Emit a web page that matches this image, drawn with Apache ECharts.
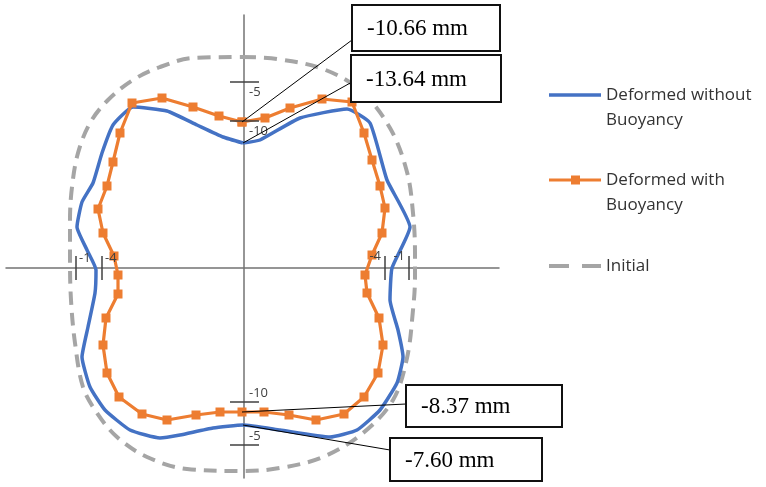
<!DOCTYPE html>
<html>
<head>
<meta charset="utf-8">
<script src="https://cdn.jsdelivr.net/npm/echarts@6/dist/echarts.min.js"></script>
<style>
  html, body { margin: 0; padding: 0; background: #ffffff; }
  #chart { width: 766px; height: 487px; }
</style>
</head>
<body>
<div id="chart"></div>
<script>
// Outline points of the section, measured from the section centre (x to the right, y upwards).
// Each outline runs clockwise from the top of the vertical axis and closes on its first point.
const initialX = [-1, 33, 79, 116, 146, 163, 169, 171, 171, 169, 163, 149, 119, 79, 36, -1,
  -57, -97, -127, -147, -161, -169, -173, -174, -174, -172, -166, -154, -136, -111, -84, -51, -1];
const initialY = [211, 209, 199, 178, 140, 96, 55, 15, -9, -42, -90, -132, -165, -189, -200, -203,
  -201, -189, -169, -145, -119, -75, -32, 8, 48, 81, 115, 145, 168, 188, 201, 210, 211];

const noBuoyancyX = [-1, 16, 56, 103, 126, 143, 166, 148, 146, 154, 159, 153, 136, 113, 86, 36, -1,
  -31, -64, -84, -114, -139, -154, -162, -156, -149, -148, -157, -167, -162, -151, -142, -131, -111, -77, -47, -21, -1];
const noBuoyancyY = [125, 128, 150, 159, 145, 88, 41, 0, -32, -62, -89, -115, -142, -162, -169, -162, -157,
  -160, -167, -170, -162, -142, -119, -89, -59, -25, -2, 18, 41, 66, 85, 115, 143, 161, 157, 143, 131, 125];

const buoyancyX = [-2, 21, 46, 78, 108, 120, 128, 136, 141, 138, 128, 121, 123, 135, 139, 134, 120, 100, 72, 45, 20, -2,
  -24, -48, -77, -102, -125, -137, -141, -138, -126, -126, -130, -141, -146, -137, -131, -124, -112, -82, -51, -25, -2];
const buoyancyY = [146, 150, 160, 169, 166, 135, 108, 82, 60, 35, 13, -7, -25, -50, -77, -105, -129, -146, -152, -147, -144, -144,
  -144, -147, -152, -146, -129, -105, -77, -50, -26, -7, 12, 35, 59, 82, 106, 135, 165, 170, 161, 152, 146];

// Displacement scale marks along the two axes
const scaleAxis = ['y', 'y', 'y', 'y', 'x', 'x', 'x', 'x'];
const scalePos = [186, 147, -134, -177, -168, -142, 141, 165];
const scaleLabels = ['-5', '-10', '-10', '-5', '-1', '-4', '-4', '-1'];

// Annotated displacements (mm) and the outline point each one refers to
const calloutValues = [-10.66, -13.64, -8.37, -7.60];
const calloutCurve = ['buoyancy', 'noBuoyancy', 'buoyancy', 'noBuoyancy'];
const calloutIndex = [0, 0, 21, 16];

// Series names
const seriesNames = ['Deformed without Buoyancy', 'Deformed with Buoyancy', 'Initial'];

// Placement of the annotation boxes (centre, size in px) and where their leader lines meet them
const calloutLayout = [
  { box: [182, 240], size: [148, 46], leader: [108, 228] },
  { box: [182, 189.5], size: [150, 47], leader: [108, 186] },
  { box: [240, -138], size: [156, 42], leader: [162, -136] },
  { box: [222, -191.5], size: [152, 43], leader: [146, -182] }
];

const zip = (xs, ys) => xs.map((x, i) => [x, ys[i]]);
const curves = {
  buoyancy: zip(buoyancyX, buoyancyY),
  noBuoyancy: zip(noBuoyancyX, noBuoyancyY),
  initial: zip(initialX, initialY)
};
const calloutAnchor = i => curves[calloutCurve[i]][calloutIndex[i]];

const legendText = {
  fontFamily: '"Open Sans", "Noto Sans", sans-serif',
  fontSize: 17,
  color: '#333333',
  lineHeight: 25
};
// Two-line legend entries; the empty leading line keeps the first line level with the icon
const twoLine = name => '\n' + name.replace(' Buoyancy', '\nBuoyancy');

const chart = echarts.init(document.getElementById('chart'), null, { renderer: 'canvas' });

chart.setOption({
  animation: false,
  backgroundColor: '#ffffff',
  grid: { left: 6, right: 267, top: 15, bottom: 9, containLabel: false },
  xAxis: {
    type: 'value', min: -238, max: 255,
    axisLine: { show: true, onZero: true, lineStyle: { color: '#737373', width: 1.5 } },
    axisTick: { show: false }, axisLabel: { show: false }, splitLine: { show: false }
  },
  yAxis: {
    type: 'value', min: -210, max: 253,
    axisLine: { show: true, onZero: true, lineStyle: { color: '#737373', width: 1.5 } },
    axisTick: { show: false }, axisLabel: { show: false }, splitLine: { show: false }
  },
  legend: [
    {
      data: [{ name: seriesNames[0], icon: 'rect', itemStyle: { color: '#4472C4', borderWidth: 0 } }],
      formatter: twoLine,
      left: 549, top: 57.5, padding: 0, itemWidth: 52, itemHeight: 3.5, selectedMode: false,
      textStyle: legendText
    },
    {
      data: [{ name: seriesNames[1], icon: 'path://M0,3H52V6H0Z M22,0H31V9H22Z', itemStyle: { color: '#ED7D31', borderWidth: 0 } }],
      formatter: twoLine,
      left: 549, top: 142.5, padding: 0, itemWidth: 52, itemHeight: 9, selectedMode: false,
      textStyle: legendText
    },
    {
      data: [{ name: seriesNames[2], icon: 'path://M0,0H20V4H0Z M33,0H52V4H33Z', itemStyle: { color: '#A5A5A5', borderWidth: 0 } }],
      left: 549, top: 253.5, padding: 0, itemWidth: 52, itemHeight: 4, selectedMode: false,
      textStyle: legendText
    }
  ],
  series: [
    {
      name: seriesNames[2],
      type: 'line',
      data: curves.initial,
      symbol: 'none',
      smooth: 0.35,
      lineStyle: { color: '#A5A5A5', width: 4, type: [13, 8] },
      itemStyle: { color: '#A5A5A5' },
      z: 2
    },
    {
      name: seriesNames[0],
      type: 'line',
      data: curves.noBuoyancy,
      symbol: 'none',
      smooth: 0.15,
      lineStyle: { color: '#4472C4', width: 3.5 },
      itemStyle: { color: '#4472C4' },
      z: 3
    },
    {
      name: seriesNames[1],
      type: 'line',
      data: curves.buoyancy,
      symbol: 'rect',
      symbolSize: 9,
      showSymbol: true,
      lineStyle: { color: '#ED7D31', width: 3.2 },
      itemStyle: { color: '#ED7D31', borderWidth: 0 },
      z: 4
    },
    {
      // scale marks on the axes
      name: 'scale',
      type: 'custom',
      coordinateSystem: 'cartesian2d',
      silent: true,
      z: 5,
      encode: { x: 0, y: 1 },
      data: scalePos.map((p, i) => scaleAxis[i] === 'y' ? [0, p, i] : [p, 0, i]),
      renderItem(params, api) {
        const i = api.value(2);
        const onY = scaleAxis[i] === 'y';
        const pos = scalePos[i];
        const pt = api.coord([api.value(0), api.value(1)]);
        let shape, tx, ty, align;
        if (onY) {
          shape = { x1: pt[0] - 14, y1: pt[1], x2: pt[0] + 15, y2: pt[1] };
          tx = pt[0] + 5; ty = pt[1] + (pos > 0 ? 10 : -9); align = 'left';
        } else {
          shape = { x1: pt[0], y1: pt[1] - 12, x2: pt[0], y2: pt[1] + 12 };
          if (pos < 0) { tx = pt[0] + 3; ty = pt[1] - 10; align = 'left'; }
          else { tx = pt[0] - 4; ty = pt[1] - 12; align = 'right'; }
        }
        return {
          type: 'group',
          children: [
            { type: 'line', shape: shape, style: { stroke: '#404040', lineWidth: 1.5 } },
            {
              type: 'text',
              style: {
                text: scaleLabels[i], x: tx, y: ty, align: align, verticalAlign: 'middle',
                fontFamily: '"Open Sans", sans-serif', fontSize: 13, fill: '#404040'
              }
            }
          ]
        };
      }
    },
    {
      // boxed displacement annotations with leader lines to their outline points
      name: 'callouts',
      type: 'custom',
      coordinateSystem: 'cartesian2d',
      silent: true,
      z: 6,
      encode: { x: 0, y: 1 },
      data: calloutValues.map((v, i) => [calloutAnchor(i)[0], calloutAnchor(i)[1], i, v]),
      renderItem(params, api) {
        const i = api.value(2);
        const lay = calloutLayout[i];
        const a = api.coord([api.value(0), api.value(1)]);
        const l = api.coord(lay.leader);
        const c = api.coord(lay.box);
        const w = lay.size[0], h = lay.size[1];
        return {
          type: 'group',
          children: [
            { type: 'line', shape: { x1: a[0], y1: a[1], x2: l[0], y2: l[1] }, style: { stroke: '#000000', lineWidth: 1 } },
            {
              type: 'rect',
              shape: { x: Math.round(c[0] - w / 2), y: Math.round(c[1] - h / 2), width: w, height: h },
              style: { fill: '#ffffff', stroke: '#111111', lineWidth: 2 }
            },
            {
              type: 'text',
              style: {
                text: api.value(3).toFixed(2) + ' mm',
                x: c[0] - w / 2 + 15, y: c[1] + 1, align: 'left', verticalAlign: 'middle',
                fontFamily: '"Liberation Serif", "DejaVu Serif", serif', fontSize: 23, fill: '#000000'
              }
            }
          ]
        };
      }
    }
  ]
});
</script>
</body>
</html>
